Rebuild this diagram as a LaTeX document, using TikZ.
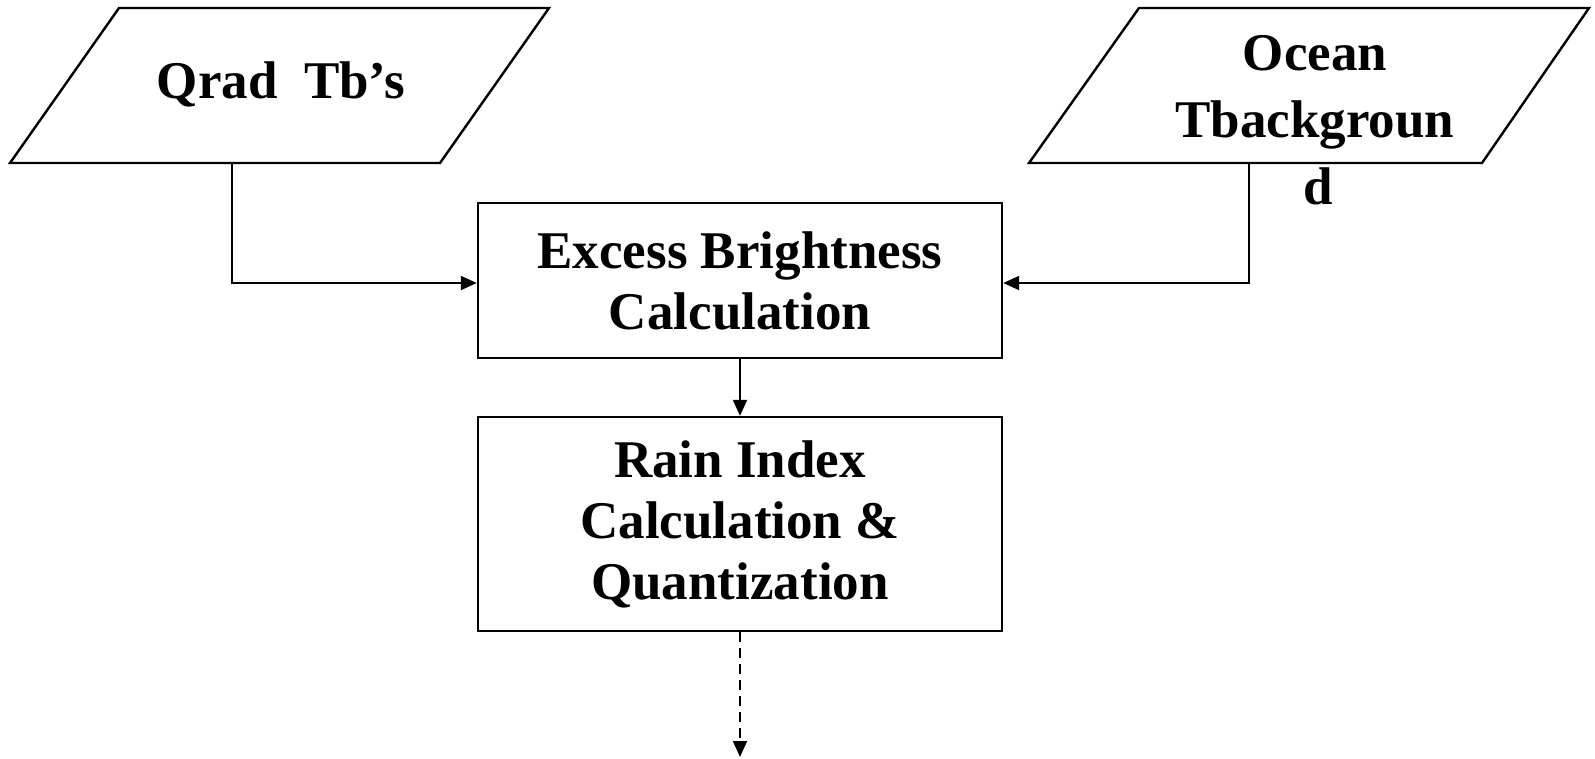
\documentclass[tikz,border=0pt]{standalone}
\usepackage{fontspec}
\setmainfont{Liberation Serif}
\usetikzlibrary{arrows.meta}

\begin{document}
\begin{tikzpicture}[x=1pt,y=-1pt,
  shapeline/.style={draw=black,line width=2.4pt,line join=miter},
  procbox/.style={shapeline,fill=white,rectangle,minimum width=524pt,
    align=center,inner sep=0pt},
  label/.style={align=center,inner sep=0pt,
    font=\fontsize{53}{61}\selectfont\bfseries},
  flow/.style={line width=2pt,-{Triangle[length=16pt,width=14pt]}},
  flowdash/.style={flow,dash pattern=on 10pt off 6pt}]
\useasboundingbox (0,0) rectangle (1595,758);

% input parallelograms
\draw[shapeline] (119,8) -- (549,8) -- (440,163) -- (10,163) -- cycle;
\node[label] (qrad) at (281,84) {Qrad~~Tb’s};
\coordinate (qradout) at (232,163);

\draw[shapeline] (1139,8) -- (1589,8) -- (1482,163) -- (1029,163) -- cycle;
\node[label,font=\fontsize{53}{67}\selectfont\bfseries] (ocean) at (1315,120)
  {Ocean\\Tbackgroun\\\hspace*{6pt}d};
\coordinate (oceanout) at (1249,163);

% processing steps
\node[procbox,minimum height=155pt,font=\fontsize{53}{61}\selectfont\bfseries]
  (excess) at (740,280.5) {Excess Brightness\\Calculation};
\node[procbox,minimum height=214pt,font=\fontsize{53}{61}\selectfont\bfseries]
  (rain) at (740,524) {Rain Index\\Calculation \&\\Quantization};
\coordinate (next) at (740,757);

% connectors
\draw[flow] (qradout) |- ([yshift=-2.5pt]excess.west);
\draw[flow] (oceanout) |- ([yshift=-2.5pt]excess.east);
\draw[flow] (excess.south) -- (rain.north);
\draw[flowdash] (rain.south) -- (next);
\end{tikzpicture}
\end{document}
